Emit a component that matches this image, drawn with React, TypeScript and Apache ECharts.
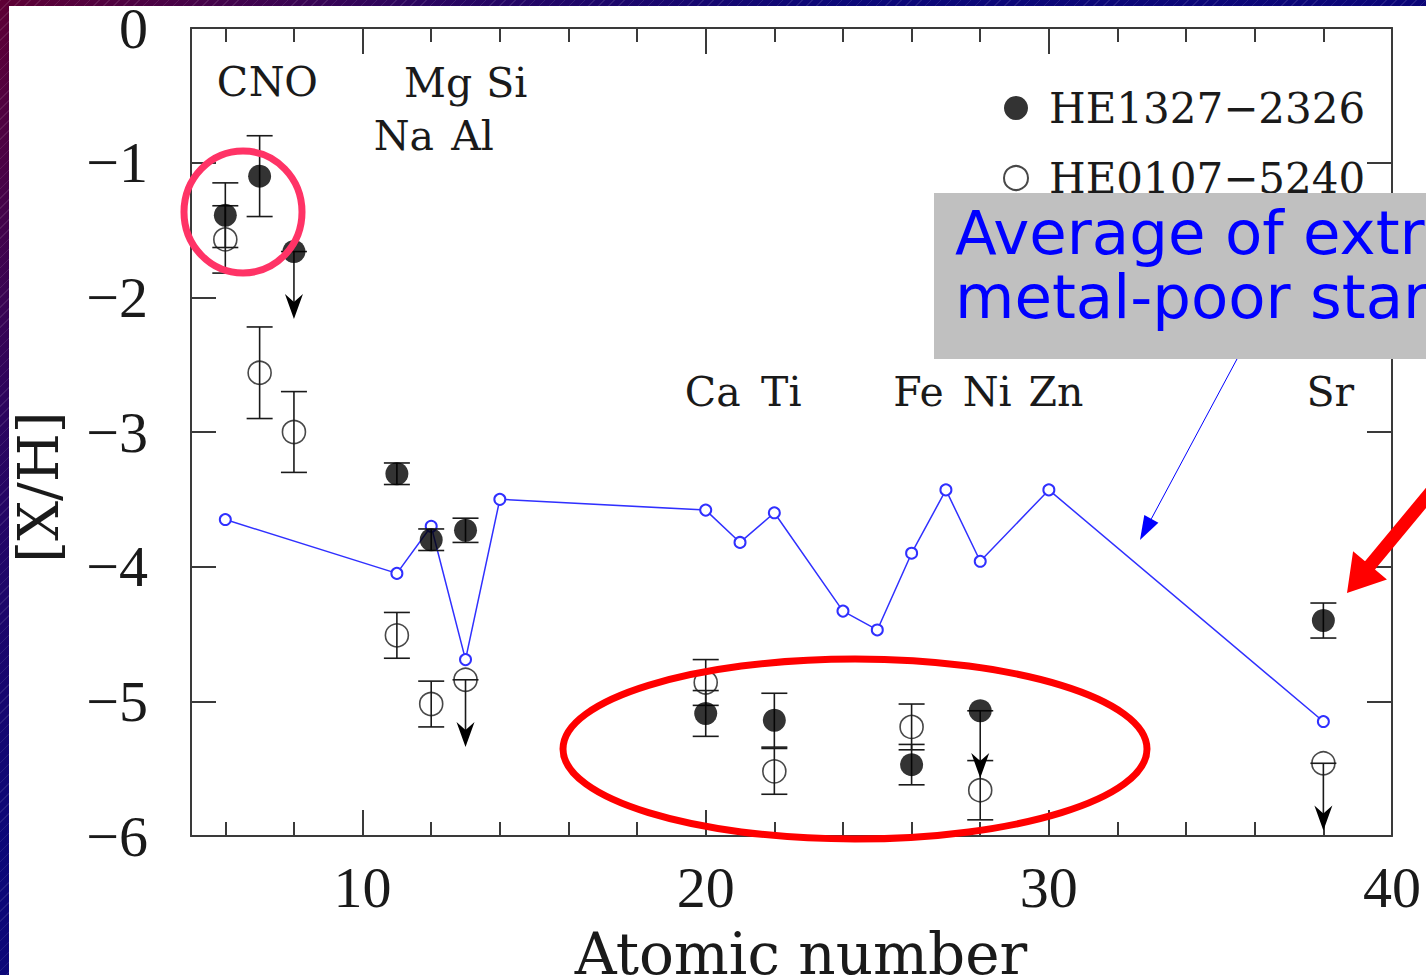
import React, { useEffect, useRef } from 'react';
import * as echarts from 'echarts';

// ---- Data: HE1327-2326 (filled), HE0107-5240 (open), EMP average (blue) ----
const HE1327_Z = [6, 7, 8, 11, 12, 13, 20, 22, 26, 28, 38];
const HE1327_XH = [-1.39, -1.1, -1.66, -3.31, -3.8, -3.73, -5.09, -5.14, -5.47, -5.07, -4.4];
const HE1327_ERR = [0.24, 0.3, 0, 0.08, 0.08, 0.09, 0.17, 0.2, 0.15, 0, 0.13];
const HE1327_UPPER = [0, 0, 1, 0, 0, 0, 0, 0, 0, 1, 0];

const HE0107_Z = [6, 7, 8, 11, 12, 13, 20, 22, 26, 28, 38];
const HE0107_XH = [-1.57, -2.56, -3.0, -4.51, -5.02, -4.84, -4.86, -5.52, -5.19, -5.66, -5.46];
const HE0107_ERR = [0.25, 0.34, 0.3, 0.17, 0.17, 0, 0.17, 0.17, 0.17, 0.22, 0];
const HE0107_UPPER = [0, 0, 0, 0, 0, 1, 0, 0, 0, 0, 1];

const EMP_Z = [6, 11, 12, 13, 14, 20, 21, 22, 24, 25, 26, 27, 28, 30, 38];
const EMP_AVG = [-3.65, -4.05, -3.7, -4.69, -3.5, -3.58, -3.82, -3.6, -4.33, -4.47, -3.9, -3.43, -3.96, -3.43, -5.15];

const ELEM_SYMBOLS = ['C', 'N', 'O', 'Mg', 'Si', 'Na', 'Al', 'Ca', 'Ti', 'Fe', 'Ni', 'Zn', 'Sr'];
const ELEM_Z = [6, 7, 8, 12, 14, 11, 13, 20, 22, 26, 28, 30, 38];
const ELEM_LEVEL = [-0.4, -0.4, -0.4, -0.41, -0.41, -0.8, -0.8, -2.7, -2.7, -2.7, -2.7, -2.7, -2.7];

const X_LABELS = [10, 20, 30, 40];
const X_MAJOR = [10, 20, 30, 40];
const X_MINOR = [6, 8, 12, 14, 16, 18, 22, 24, 26, 28, 32, 34, 36, 38];
const LIMIT_LENGTH = 0.5;

const NAME_A = 'HE1327\u22122326';
const NAME_B = 'HE0107\u22125240';

const SERIF = '"DejaVu Serif", serif';
const TICK_FONT = '"Liberation Serif", serif';
const INK = '#1a1a1a';
const AXIS_COLOR = '#3a3a3a';

function errRender(params: any, api: any) {
  const z = api.value(0);
  const v = api.value(1);
  const e = api.value(2);
  const up = api.value(3);
  const c = api.coord([z, v]);
  const stroke = { stroke: INK, lineWidth: 1.6 };
  const cap = 13;
  if (up) {
    const tip = api.coord([z, v - LIMIT_LENGTH]);
    return {
      type: 'group',
      children: [
        { type: 'line', shape: { x1: c[0], y1: c[1], x2: c[0], y2: tip[1] - 16 }, style: stroke },
        {
          type: 'polygon',
          shape: { points: [[c[0], tip[1]], [c[0] - 9, tip[1] - 25], [c[0], tip[1] - 17], [c[0] + 9, tip[1] - 25]] },
          style: { fill: '#000' },
        },
        { type: 'line', shape: { x1: c[0] - cap, y1: c[1], x2: c[0] + cap, y2: c[1] }, style: stroke },
      ],
    };
  }
  const top = api.coord([z, v + e]);
  const bot = api.coord([z, v - e]);
  return {
    type: 'group',
    children: [
      { type: 'line', shape: { x1: c[0], y1: top[1], x2: c[0], y2: bot[1] }, style: stroke },
      { type: 'line', shape: { x1: c[0] - cap, y1: top[1], x2: c[0] + cap, y2: top[1] }, style: stroke },
      { type: 'line', shape: { x1: c[0] - cap, y1: bot[1], x2: c[0] + cap, y2: bot[1] }, style: stroke },
    ],
  };
}

function labelRender(params: any, api: any) {
  const p = api.coord([api.value(0), api.value(1)]);
  return {
    type: 'text',
    x: p[0] + 7,
    y: p[1],
    style: {
      text: ELEM_SYMBOLS[params.dataIndex],
      fontFamily: SERIF,
      fontSize: 41,
      fill: INK,
      align: 'center',
      verticalAlign: 'middle',
    },
  };
}

function arrowPoints(tail: number[], tip: number[], headLen: number, headHalf: number, shaftHalf: number) {
  const dx = tail[0] - tip[0];
  const dy = tail[1] - tip[1];
  const len = Math.hypot(dx, dy);
  const u = [dx / len, dy / len];
  const n = [-u[1], u[0]];
  const b = [tip[0] + u[0] * headLen, tip[1] + u[1] * headLen];
  const p = (base: number[], s: number) => [base[0] + n[0] * s, base[1] + n[1] * s];
  return [tip, p(b, headHalf), p(b, shaftHalf), p(tail, shaftHalf), p(tail, -shaftHalf), p(b, -shaftHalf), p(b, -headHalf)];
}

export default function App() {
  const ref = useRef<HTMLDivElement>(null);

  useEffect(() => {
    if (!ref.current) return;
    const chart = echarts.init(ref.current, null, { renderer: 'svg' });

    const lineStyle = { color: AXIS_COLOR, width: 2 };
    const baseX = { type: 'value', min: 5, max: 40, splitLine: { show: false } };
    const baseY = { type: 'value', min: -6, max: 0, interval: 1, splitLine: { show: false } };

    const blueTail = [1237, 359];
    const blueTip = [1140, 540];
    const bdx = blueTail[0] - blueTip[0];
    const bdy = blueTail[1] - blueTip[1];
    const blen = Math.hypot(bdx, bdy);
    const bu = [bdx / blen, bdy / blen];
    const bb = [blueTip[0] + bu[0] * 24, blueTip[1] + bu[1] * 24];
    const bn = [-bu[1], bu[0]];

    const option: any = {
      animation: false,
      backgroundColor: 'transparent',
      grid: { left: 191, top: 28, width: 1201, height: 808, outerBoundsMode: 'none', containLabel: false },
      legend: {
        orient: 'vertical',
        left: 998,
        top: 80,
        itemWidth: 24,
        itemHeight: 24,
        itemGap: 24,
        selectedMode: false,
        data: [
          { name: NAME_A, icon: 'circle' },
          { name: NAME_B, icon: 'circle' },
        ],
        textStyle: { fontFamily: SERIF, fontSize: 42, color: INK, lineHeight: 46, padding: [0, 0, 0, 16] },
      },
      xAxis: [
        {
          ...baseX,
          position: 'bottom',
          axisLine: { show: true, onZero: false, lineStyle },
          axisTick: { show: true, inside: true, length: 26, customValues: X_MAJOR, lineStyle },
          axisLabel: { show: true, customValues: X_LABELS, margin: 22, fontFamily: TICK_FONT, fontSize: 58, color: INK },
          name: 'Atomic number',
          nameLocation: 'middle',
          nameGap: 89,
          nameTextStyle: { fontFamily: SERIF, fontSize: 58, color: INK, padding: [0, 0, 0, 19] },
        },
        {
          ...baseX,
          position: 'bottom',
          axisLine: { show: false, onZero: false },
          axisTick: { show: true, inside: true, length: 14, customValues: X_MINOR, lineStyle },
          axisLabel: { show: false },
        },
        {
          ...baseX,
          position: 'top',
          axisLine: { show: true, onZero: false, lineStyle },
          axisTick: { show: true, inside: true, length: 26, customValues: X_MAJOR, lineStyle },
          axisLabel: { show: false },
        },
        {
          ...baseX,
          position: 'top',
          axisLine: { show: false, onZero: false },
          axisTick: { show: true, inside: true, length: 14, customValues: X_MINOR, lineStyle },
          axisLabel: { show: false },
        },
      ],
      yAxis: [
        {
          ...baseY,
          position: 'left',
          axisLine: { show: true, onZero: false, lineStyle },
          axisTick: { show: true, inside: true, length: 25, lineStyle },
          axisLabel: {
            margin: 43,
            fontFamily: TICK_FONT,
            fontSize: 58,
            color: INK,
            formatter: (v: number) => (v < 0 ? '\u2212' + Math.abs(v) : String(v)),
          },
        },
        {
          ...baseY,
          position: 'right',
          axisLine: { show: true, onZero: false, lineStyle },
          axisTick: { show: true, inside: true, length: 25, lineStyle },
          axisLabel: { show: false },
        },
      ],
      series: [
        {
          type: 'line',
          name: 'Average of extremely metal-poor stars',
          data: EMP_Z.map((z, i) => [z, EMP_AVG[i]]),
          symbol: 'emptyCircle',
          symbolSize: 11,
          lineStyle: { color: '#3030ff', width: 1.5 },
          itemStyle: { color: '#3030ff', borderWidth: 1.5 },
          z: 2,
        },
        {
          type: 'custom',
          name: NAME_B + ' errors',
          renderItem: errRender,
          data: HE0107_Z.map((z, i) => [z, HE0107_XH[i], HE0107_ERR[i], HE0107_UPPER[i]]),
          encode: { x: 0, y: 1 },
          z: 3,
        },
        {
          type: 'custom',
          name: NAME_A + ' errors',
          renderItem: errRender,
          data: HE1327_Z.map((z, i) => [z, HE1327_XH[i], HE1327_ERR[i], HE1327_UPPER[i]]),
          encode: { x: 0, y: 1 },
          z: 3,
        },
        {
          type: 'scatter',
          name: NAME_B,
          data: HE0107_Z.map((z, i) => [z, HE0107_XH[i]]),
          symbol: 'circle',
          symbolSize: 23,
          itemStyle: { color: 'rgba(255,255,255,0)', borderColor: INK, borderWidth: 1.6 },
          z: 4,
        },
        {
          type: 'scatter',
          name: NAME_A,
          data: HE1327_Z.map((z, i) => [z, HE1327_XH[i]]),
          symbol: 'circle',
          symbolSize: 23,
          itemStyle: { color: '#000' },
          z: 5,
        },
        {
          type: 'custom',
          name: 'Element labels',
          renderItem: labelRender,
          data: ELEM_Z.map((z, i) => [z, ELEM_LEVEL[i]]),
          encode: { x: 0, y: 1 },
          z: 6,
        },
      ],
      graphic: [
        {
          type: 'text',
          x: 38,
          y: 487,
          rotation: Math.PI / 2,
          style: { text: '[X/H]', fontFamily: SERIF, fontSize: 56, fill: INK, align: 'center', verticalAlign: 'middle' },
        },
        {
          type: 'ellipse',
          z: 100,
          shape: { cx: 243, cy: 212, rx: 59, ry: 61 },
          style: { fill: 'none', stroke: '#ff3366', lineWidth: 7 },
        },
        {
          type: 'ellipse',
          z: 100,
          shape: { cx: 855, cy: 749, rx: 292, ry: 90 },
          style: { fill: 'none', stroke: '#ff0000', lineWidth: 7 },
        },
        {
          type: 'rect',
          z: 100,
          shape: { x: 934, y: 193, width: 520, height: 166 },
          style: { fill: '#c0c0c0' },
        },
        {
          type: 'text',
          z: 101,
          x: 955,
          y: 232,
          style: { text: 'Average of extremely', fontFamily: '"DejaVu Sans", sans-serif', fontSize: 61, fill: '#0000ff', align: 'left', verticalAlign: 'middle' },
        },
        {
          type: 'text',
          z: 101,
          x: 955,
          y: 296,
          style: { text: 'metal-poor stars', fontFamily: '"DejaVu Sans", sans-serif', fontSize: 61, fill: '#0000ff', align: 'left', verticalAlign: 'middle' },
        },
        {
          type: 'line',
          z: 101,
          shape: { x1: blueTail[0], y1: blueTail[1], x2: bb[0], y2: bb[1] },
          style: { stroke: '#0000ff', lineWidth: 1 },
        },
        {
          type: 'polygon',
          z: 101,
          shape: { points: [blueTip, [bb[0] + bn[0] * 8, bb[1] + bn[1] * 8], [bb[0] - bn[0] * 8, bb[1] - bn[1] * 8]] },
          style: { fill: '#0000ff' },
        },
        {
          type: 'polygon',
          z: 101,
          shape: { points: arrowPoints([1475, 439], [1347, 593], 36, 22, 6.5) },
          style: { fill: '#ff0000' },
        },
      ],
    };

    chart.setOption(option);
    return () => chart.dispose();
  }, []);

  return (
    <div
      style={{
        position: 'absolute',
        left: 0,
        top: 0,
        width: 1426,
        height: 975,
        overflow: 'hidden',
        background:
          'repeating-linear-gradient(135deg, rgba(255,255,255,0.10) 0px, rgba(255,255,255,0.10) 1px, rgba(0,0,0,0) 1px, rgba(0,0,0,0) 7px), linear-gradient(135deg, #5e0034 0%, #2a0560 18%, #0c0878 35%, #0a0075 100%)',
      }}
    >
      <div style={{ position: 'absolute', left: 9, top: 6, right: 0, bottom: 0, background: '#ffffff' }} />
      <div ref={ref} style={{ position: 'absolute', left: 0, top: 0, width: 1426, height: 975 }} />
    </div>
  );
}
